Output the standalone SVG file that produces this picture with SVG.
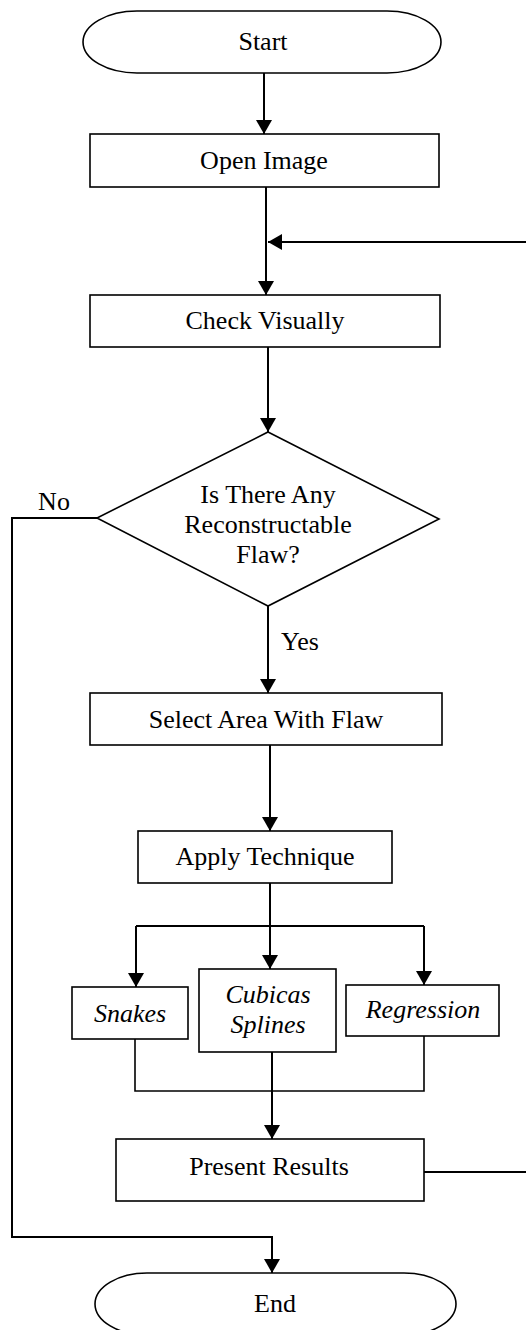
<svg xmlns="http://www.w3.org/2000/svg" width="526" height="1330" viewBox="0 0 526 1330">
<style>
.box{fill:#fff;stroke:#000;stroke-width:1.6}
.t{font-family:"Liberation Serif","Times New Roman",serif;font-size:26px;fill:#000;text-anchor:middle}
.i{font-style:italic}
.c{fill:none;stroke:#000;stroke-width:2}
.cn{fill:none;stroke:#000;stroke-width:1.6}
</style>
<defs>
<marker id="ah" markerUnits="userSpaceOnUse" markerWidth="14" markerHeight="16" refX="14" refY="8" orient="auto">
<path d="M0,0 L14,8 L0,16 z" fill="#000"/>
</marker>
</defs>
<rect width="526" height="1330" fill="#fff"/>
<g id="connectors">
<path class="c" d="M264,73 V134" marker-end="url(#ah)"/>
<path class="c" d="M266,187 V295" marker-end="url(#ah)"/>
<path class="c" d="M424,1172 H530 V242 H268" marker-end="url(#ah)"/>
<path class="c" d="M268,347 V432" marker-end="url(#ah)"/>
<path class="c" d="M268,606 V693" marker-end="url(#ah)"/>
<path class="c" d="M97,518 H12 V1237 H272 V1273" marker-end="url(#ah)"/>
<path class="c" d="M270,745 V831" marker-end="url(#ah)"/>
<path class="c" d="M270,883 V969" marker-end="url(#ah)"/>
<path class="c" d="M136,926 H424"/>
<path class="c" d="M136,926 V987" marker-end="url(#ah)"/>
<path class="c" d="M424,926 V985" marker-end="url(#ah)"/>
<path class="cn" d="M135,1039 V1091 H424 V1036"/>
<path class="c" d="M272,1052 V1139" marker-end="url(#ah)"/>
<text class="t" x="54" y="510">No</text>
<text class="t" x="300" y="650">Yes</text>
</g>
<g id="start">
<path class="box" d="M137,11 H387 A54,31 0 0 1 387,73 H137 A54,31 0 0 1 137,11 z"/>
<text class="t" x="263" y="50">Start</text>
</g>
<g id="open-image">
<rect class="box" x="90" y="134" width="349" height="53"/>
<text class="t" x="264" y="169">Open Image</text>
</g>
<g id="check-visually">
<rect class="box" x="90" y="295" width="350" height="52"/>
<text class="t" x="265" y="329">Check Visually</text>
</g>
<g id="decision">
<path class="box" d="M268,432 L439,519 L268,606 L97,518 z"/>
<text class="t" x="268" y="503">Is There Any</text>
<text class="t" x="268" y="533">Reconstructable</text>
<text class="t" x="268" y="563">Flaw?</text>
</g>
<g id="select-area">
<rect class="box" x="90" y="693" width="352" height="52"/>
<text class="t" x="266" y="728">Select Area With Flaw</text>
</g>
<g id="apply-technique">
<rect class="box" x="138" y="831" width="254" height="52"/>
<text class="t" x="265" y="865">Apply Technique</text>
</g>
<g id="snakes">
<rect class="box" x="72" y="987" width="116" height="52"/>
<text class="t i" x="130" y="1022">Snakes</text>
</g>
<g id="cubicas-splines">
<rect class="box" x="199" y="969" width="137" height="83"/>
<text class="t i" x="268" y="1003">Cubicas</text>
<text class="t i" x="268" y="1033">Splines</text>
</g>
<g id="regression">
<rect class="box" x="346" y="985" width="153" height="51"/>
<text class="t i" x="423" y="1018">Regression</text>
</g>
<g id="present-results">
<rect class="box" x="116" y="1139" width="308" height="62"/>
<text class="t" x="269" y="1175">Present Results</text>
</g>
<g id="end">
<path class="box" d="M147,1273 H404 A52,31 0 0 1 404,1335 H147 A52,31 0 0 1 147,1273 z"/>
<text class="t" x="275" y="1312">End</text>
</g>
</svg>
